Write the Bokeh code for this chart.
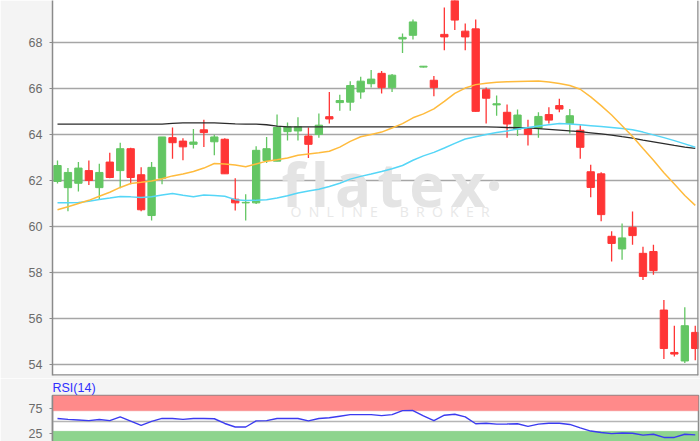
from bokeh.plotting import figure
from bokeh.layouts import column
from bokeh.models import (ColumnDataSource, Range1d, BoxAnnotation, Span,
                          Label, FixedTicker)
from bokeh.embed import file_html
from bokeh.resources import INLINE

# ---------------- data ----------------
opens = [61.96, 61.69, 61.88, 62.43, 61.69, 62.80, 62.43, 63.38, 62.25, 60.48,
         62.10, 63.86, 63.71, 63.57, 64.20, 63.68, 63.79, 61.19, 61.03, 61.03,
         62.87, 62.84, 64.12, 64.15, 63.93, 64.00, 64.77, 65.38, 65.40, 65.84,
         66.20, 66.65, 66.03, 68.14, 68.30, 66.92, 66.35, 68.34, 70.40, 68.48,
         68.58, 65.94, 65.28, 64.96, 64.23, 64.23, 64.27, 64.86, 65.25, 64.47,
         64.18, 62.38, 62.29, 59.58, 59.03, 59.97, 58.84, 58.92, 56.38, 54.54,
         54.17, 55.41]
highs = [62.87, 62.54, 62.80, 62.87, 62.73, 63.20, 63.64, 63.42, 62.58, 62.80,
         63.89, 64.30, 63.83, 64.24, 64.64, 63.98, 63.83, 62.10, 61.40, 63.49,
         63.89, 64.86, 64.52, 64.74, 64.30, 64.91, 65.84, 65.72, 66.31, 66.50,
         66.79, 66.75, 66.62, 68.38, 68.99, 66.97, 66.53, 69.51, 70.90, 68.81,
         68.99, 66.03, 65.69, 65.30, 65.08, 64.64, 64.96, 65.18, 65.55, 65.10,
         64.40, 62.68, 62.36, 59.80, 60.14, 60.65, 59.13, 59.21, 56.82, 55.70,
         56.50, 55.70]
lows = [61.87, 60.67, 61.52, 61.81, 61.19, 62.10, 61.66, 61.84, 60.67, 60.26,
        61.84, 62.94, 62.88, 63.39, 63.45, 63.10, 62.29, 60.70, 60.26, 60.98,
        62.76, 62.84, 63.74, 63.74, 62.98, 63.86, 64.47, 65.03, 65.03, 65.55,
        66.03, 65.77, 65.84, 67.53, 68.12, 66.90, 65.66, 67.65, 68.53, 67.65,
        64.98, 64.47, 64.81, 63.86, 63.93, 63.52, 63.86, 64.47, 64.96, 64.04,
        62.94, 61.27, 60.23, 58.49, 58.56, 59.21, 57.68, 57.91, 54.26, 54.36,
        54.08, 54.20]
closes = [62.65, 62.35, 62.54, 62.00, 62.35, 62.13, 63.38, 62.13, 60.73, 62.57,
          63.89, 63.64, 63.46, 63.67, 64.08, 63.89, 62.29, 61.03, 61.05, 63.31,
          63.38, 64.30, 64.33, 64.33, 63.57, 64.40, 64.67, 65.47, 66.12, 66.31,
          66.40, 66.03, 66.57, 68.21, 68.88, 66.96, 66.03, 68.23, 68.96, 68.23,
          65.00, 65.57, 65.33, 64.45, 64.84, 64.00, 64.78, 64.62, 65.10, 64.81,
          63.44, 61.70, 60.52, 59.27, 59.51, 59.61, 57.84, 58.09, 54.71, 54.47,
          55.70, 54.71]

ma_short = [60.73, 60.86, 61.00, 61.14, 61.32, 61.49, 61.70, 61.87, 61.92, 61.98,
            62.08, 62.20, 62.28, 62.39, 62.54, 62.74, 62.72, 62.67, 62.60, 62.72,
            62.84, 62.90, 62.98, 63.10, 63.15, 63.20, 63.27, 63.45, 63.70, 63.90,
            64.00, 64.10, 64.28, 64.47, 64.72, 64.89, 65.11, 65.43, 65.78, 66.01,
            66.16, 66.22, 66.26, 66.28, 66.30, 66.31, 66.32, 66.27, 66.21, 66.12,
            65.96, 65.63, 65.25, 64.84, 64.38, 63.91, 63.39, 62.88, 62.34, 61.85,
            61.35, 60.92]
ma_mid = [61.03, 61.04, 61.05, 61.10, 61.18, 61.24, 61.31, 61.29, 61.26, 61.30,
          61.37, 61.44, 61.36, 61.30, 61.37, 61.35, 61.32, 61.17, 61.13, 61.14,
          61.17, 61.24, 61.34, 61.46, 61.54, 61.62, 61.74, 61.88, 62.06, 62.18,
          62.28, 62.39, 62.51, 62.65, 62.88, 63.07, 63.22, 63.41, 63.61, 63.80,
          63.90, 64.00, 64.08, 64.15, 64.23, 64.30, 64.36, 64.42, 64.47, 64.45,
          64.42, 64.38, 64.34, 64.30, 64.26, 64.20, 64.10, 63.98, 63.86, 63.73,
          63.59, 63.44]
ma_long = [64.45, 64.45, 64.45, 64.45, 64.45, 64.45, 64.45, 64.45, 64.45, 64.45,
           64.45, 64.48, 64.50, 64.50, 64.50, 64.50, 64.48, 64.46, 64.45, 64.45,
           64.42, 64.36, 64.33, 64.33, 64.33, 64.33, 64.33, 64.33, 64.33, 64.33,
           64.33, 64.33, 64.33, 64.33, 64.33, 64.33, 64.33, 64.33, 64.33, 64.33,
           64.33, 64.33, 64.32, 64.30, 64.29, 64.28, 64.25, 64.22, 64.19, 64.15,
           64.12, 64.07, 64.02, 63.97, 63.90, 63.84, 63.75, 63.68, 63.60, 63.52,
           63.45, 63.39]
rsi = [55.2, 53.3, 52.2, 50.9, 53.1, 50.9, 58.3, 50.0, 41.7, 49.4,
       55.2, 55.0, 53.3, 55.2, 55.2, 54.6, 45.4, 38.5, 38.5, 50.4,
       50.9, 55.2, 55.2, 55.2, 50.4, 55.2, 56.5, 59.6, 62.6, 62.6,
       62.6, 60.7, 62.6, 70.4, 70.7, 60.2, 50.9, 61.5, 63.3, 58.3,
       44.8, 45.7, 44.1, 44.4, 44.8, 39.8, 44.1, 45.7, 45.9, 43.5,
       36.7, 30.6, 27.8, 25.6, 26.8, 26.3, 22.6, 24.4, 18.1, 18.1,
       24.4, 23.1]

price_ticks = [54, 56, 58, 60, 62, 64, 66, 68, 70]
rsi_ticks = [25, 75]
rsi_mid = [50]
rsi_upper, rsi_lower = 70, 30

# ---------------- styles ----------------
GREEN = "#63c663"
RED = "#ff3535"
AXIS = "#8a8a8a"
GRID = "#a6a6a6"
LABEL = "#6b6b6b"
BORDER_BG = "#f4f4f4"
FONT = "Liberation Sans"
NB = "\u00a0"

idx = list(range(len(opens)))
colors = [GREEN if c >= o else RED for o, c in zip(opens, closes)]
src = ColumnDataSource(dict(
    x=idx, o=opens, h=highs, l=lows, c=closes,
    top=[max(o, c) for o, c in zip(opens, closes)],
    bottom=[min(o, c) for o, c in zip(opens, closes)],
    color=colors,
))

xr = Range1d(-0.478, 61.31)
yr = Range1d(53.54, 69.81)

p = figure(width=700, height=378, x_range=xr, y_range=yr,
           output_backend="svg", toolbar_location=None, x_axis_location=None,
           min_border_left=52, min_border_right=2, min_border_top=0,
           min_border_bottom=3, background_fill_color="white",
           border_fill_color=BORDER_BG, outline_line_color=None)

p.yaxis.ticker = FixedTicker(ticks=price_ticks)
p.yaxis.axis_line_color = AXIS
p.yaxis.axis_line_width = 1.5
p.yaxis.major_tick_line_color = AXIS
p.yaxis.major_tick_out = 3
p.yaxis.major_tick_in = 0
p.yaxis.minor_tick_line_color = None
p.yaxis.major_label_standoff = 7
p.yaxis.major_label_text_font = FONT
p.yaxis.major_label_text_font_size = "12.5px"
p.yaxis.major_label_text_color = LABEL

p.xgrid.visible = False
p.ygrid.ticker = FixedTicker(ticks=price_ticks)
p.ygrid.grid_line_color = GRID
p.ygrid.grid_line_width = 1.5

# frame edges (bottom and right)
p.add_layout(Span(location=yr.start, dimension="width", line_color=AXIS,
                  line_width=2.5))
p.add_layout(Span(location=xr.end, dimension="height", line_color=AXIS,
                  line_width=2.5))

# watermark
p.add_layout(Label(x=229, y=192, x_units="screen", y_units="screen",
                   text="\u200a".join("flatex") + "\u00b7",
                   text_font="Open Sans", text_font_style="bold",
                   text_font_size="60px", text_color="#e4e4e4",
                   text_baseline="alphabetic", level="underlay"))
p.add_layout(Label(x=238, y=164, x_units="screen", y_units="screen",
                   text=(NB * 2).join("ONLINE") + NB * 6 + (NB * 2).join("BROKER"),
                   text_font="Open Sans", text_font_size="14px",
                   text_color="#e8e8e8", text_baseline="alphabetic",
                   level="underlay"))

# candles
p.segment(x0="x", y0="l", x1="x", y1="h", source=src, line_color="color",
          line_width=1.3)
p.vbar(x="x", width=0.7, top="top", bottom="bottom", source=src,
       fill_color="color", line_color="color", line_width=1)

# moving averages
p.line(idx, ma_long, line_color="#2b2b2b", line_width=1.3)
p.line(idx, ma_mid, line_color="#55d6f7", line_width=1.5)
p.line(idx, ma_short, line_color="#ffbb3d", line_width=1.5)

# ---------------- RSI panel ----------------
r = figure(width=700, height=63, x_range=xr, y_range=Range1d(10.2, 100),
           output_backend="svg", toolbar_location=None, x_axis_location=None,
           min_border_left=52, min_border_right=2, min_border_top=14,
           min_border_bottom=0, background_fill_color="white",
           border_fill_color=BORDER_BG, outline_line_color=AXIS,
           outline_line_width=1.5)
r.title.text = "RSI(14)"
r.title.text_font = FONT
r.title.text_font_size = "12.5px"
r.title.text_font_style = "normal"
r.title.text_color = "#2f2fff"
r.title.standoff = 1
r.title.offset = 0
r.title.align = "left"

r.yaxis.ticker = FixedTicker(ticks=rsi_ticks)
r.yaxis.axis_line_color = AXIS
r.yaxis.axis_line_width = 1.5
r.yaxis.major_tick_line_color = AXIS
r.yaxis.major_tick_out = 3
r.yaxis.major_tick_in = 0
r.yaxis.minor_tick_line_color = None
r.yaxis.major_label_standoff = 7
r.yaxis.major_label_text_font = FONT
r.yaxis.major_label_text_font_size = "12.5px"
r.yaxis.major_label_text_color = LABEL
r.xgrid.visible = False
r.ygrid.ticker = FixedTicker(ticks=rsi_mid)
r.ygrid.grid_line_color = "#b5b5b5"
r.ygrid.grid_line_width = 1.5

r.add_layout(BoxAnnotation(bottom=rsi_upper, fill_color="#ff8a8a", fill_alpha=1,
                           line_color="#e86a6a", line_width=1, level="underlay"))
r.add_layout(BoxAnnotation(top=rsi_lower, fill_color="#8ed48e", fill_alpha=1,
                           line_color="#66bb66", line_width=1, level="underlay"))
r.line(idx, rsi, line_color="#3b3bf0", line_width=1.4)

layout = column(p, r, spacing=0)
open("out.html", "w").write(file_html(layout, INLINE))
